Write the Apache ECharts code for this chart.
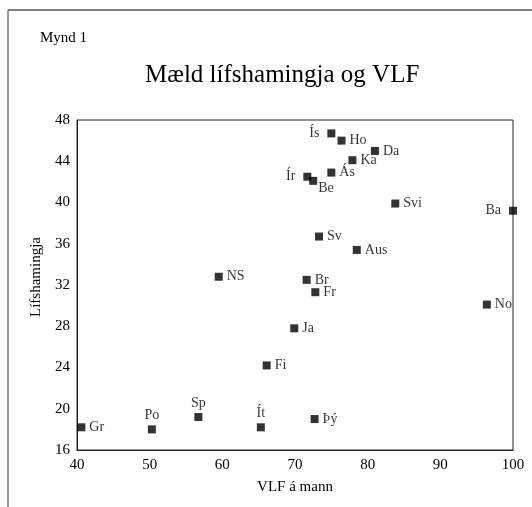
<!DOCTYPE html>
<html>
<head>
<meta charset="utf-8">
<script src="https://cdn.jsdelivr.net/npm/echarts@6/dist/echarts.min.js"></script>
<style>html,body{margin:0;padding:0;background:#fff}#c{width:532px;height:507px}</style>
</head>
<body>
<div id="c"></div>
<script>
const countries = ['Ís','Ho','Da','Ka','Ás','Ír','Be','Svi','Ba','Sv','Aus','NS','Br','Fr','No','Ja','Fi','Gr','Po','Sp','Ít','Þý'];
const vlf = [75.0, 76.4, 81.0, 77.9, 75.0, 71.7, 72.5, 83.8, 100.0, 73.3, 78.5, 59.5, 71.6, 72.8, 96.4, 69.9, 66.1, 40.6, 50.3, 56.7, 65.3, 72.7];
const happiness = [46.7, 46.0, 45.0, 44.1, 42.9, 42.5, 42.1, 39.9, 39.2, 36.7, 35.4, 32.8, 32.5, 31.3, 30.1, 27.8, 24.2, 18.2, 18.0, 19.2, 18.2, 19.0];
const xTicks = [40, 50, 60, 70, 80, 90, 100];
const yTicks = [16, 20, 24, 28, 32, 36, 40, 44, 48];

// label placement (presentation only)
const placeLeft = {'Ís':1,'Ír':1,'Ba':1};
const placeTop = {'Po':1,'Sp':1,'Ít':1};

const font = 'Liberation Serif';
const data = countries.map((c, i) => {
  let label = {position: 'right', distance: 4};
  if (placeLeft[c]) label = {position: 'left', distance: 8};
  if (placeTop[c]) label = {position: 'top', distance: 3};
  if (c === 'Be') label = {position: 'right', distance: 1, offset: [0, 7]};
  return {value: [vlf[i], happiness[i]], name: c, label};
});

const chart = echarts.init(document.getElementById('c'), null, {renderer: 'canvas'});
chart.setOption({
  animation: false,
  backgroundColor: '#fff',
  textStyle: {fontFamily: font},
  title: [
    {text: 'Mynd 1', left: 35, top: 26, textStyle: {fontFamily: font, fontSize: 15, fontWeight: 'normal', color: '#000'}},
    {text: 'Mæld lífshamingja og VLF', left: 140, top: 58, textStyle: {fontFamily: font, fontSize: 25, fontWeight: 'normal', color: '#000'}}
  ],
  graphic: [
    {type: 'line', shape: {x1: 8, y1: 10, x2: 532, y2: 10}, style: {stroke: '#555', lineWidth: 1.5}},
    {type: 'line', shape: {x1: 8, y1: 10, x2: 8, y2: 507}, style: {stroke: '#777', lineWidth: 1.5}}
  ],
  grid: {left: 77, top: 120, width: 436, height: 330, show: true, borderColor: '#222', borderWidth: 1, backgroundColor: 'transparent'},
  xAxis: {
    type: 'value', min: 40, max: 100, interval: 10,
    name: 'VLF á mann', nameLocation: 'middle', nameGap: 30,
    nameTextStyle: {fontFamily: font, fontSize: 15, color: '#000'},
    axisLine: {show: true, lineStyle: {color: '#222', width: 1}},
    axisTick: {show: false}, splitLine: {show: false},
    axisLabel: {fontFamily: font, fontSize: 15, color: '#000', margin: 8}
  },
  yAxis: {
    type: 'value', min: 16, max: 48, interval: 4,
    name: 'Lífshamingja', nameLocation: 'middle', nameGap: 33, nameRotate: 90,
    nameTextStyle: {fontFamily: font, fontSize: 15, color: '#000', padding: [0, 0, 0, 16]},
    axisLine: {show: true, lineStyle: {color: '#222', width: 1}},
    axisTick: {show: false}, splitLine: {show: false},
    axisLabel: {fontFamily: font, fontSize: 15, color: '#000', margin: 7}
  },
  series: [{
    type: 'scatter',
    symbol: 'rect', symbolSize: 8,
    clip: false,
    itemStyle: {color: '#000'},
    label: {show: true, formatter: '{b}', fontFamily: font, fontSize: 14, color: '#000'},
    data: data
  }]
});
</script>
</body>
</html>
